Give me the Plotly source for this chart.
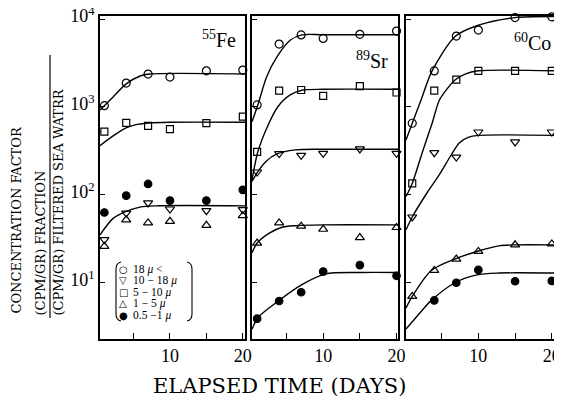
import plotly.graph_objects as go

# ---------------- data ----------------
days = [1, 4, 7, 10, 15, 20]
days_co_fine = [4, 7, 10, 15, 20]

size_classes = ["18 μ <", "10 − 18 μ", "5 − 10 μ", "1 − 5 μ", "0.5 −1 μ"]

fe_gt18 = [1035, 1870, 2370, 2190, 2580, 2630]
fe_10_18 = [31, 62, 81, 69, 66, 68]
fe_5_10 = [525, 660, 608, 559, 654, 776]
fe_1_5 = [26, 52, 48, 50, 45, 58]
fe_05_1 = [63, 98, 133, 86, 86, 114]

sr_gt18 = [1054, 5200, 6610, 6030, 6710, 7310]
sr_10_18 = [182, 295, 282, 297, 333, 297]
sr_5_10 = [309, 1535, 1560, 1334, 1730, 1460]
sr_1_5 = [28.3, 48, 44, 40.6, 32.7, 42.5]
sr_05_1 = [3.9, 6.2, 7.8, 13.4, 15.9, 12]

co_gt18 = [653, 2570, 6410, 7490, 10400, 10600]
co_10_18 = [56, 302, 269, 519, 400, 519]
co_5_10 = [135, 1535, 2050, 2580, 2580, 2580]
co_1_5 = [7.0, 13.8, 18.6, 22.7, 27, 27.7]
co_05_1 = [6.3, 10, 14, 10.4, 10.5]

# fitted curves
fe_fit_gt18_x = [0.4, 1, 2.2, 4, 5.9, 7.2, 20.3]
fe_fit_gt18_y = [925, 1035, 1300, 1830, 2250, 2370, 2370]
fe_fit_5_10_x = [0.4, 2.2, 3.9, 5.5, 7.1, 10, 20.3]
fe_fit_5_10_y = [363, 468, 575, 633, 658, 670, 670]
fe_fit_1_18_x = [0.4, 2.2, 4, 5.9, 8, 20.3]
fe_fit_1_18_y = [35, 54, 65, 72.6, 75, 75]

sr_fit_gt18_x = [0.3, 1.1, 2.3, 3.7, 5.5, 7.1, 10, 20.2]
sr_fit_gt18_y = [680, 1054, 2210, 3720, 5750, 6610, 6640, 6640]
sr_fit_5_10_x = [0.3, 1.1, 2.5, 3.8, 5.5, 7.1, 10, 20.2]
sr_fit_5_10_y = [148, 309, 624, 1000, 1370, 1550, 1590, 1590]
sr_fit_10_18_x = [0.3, 1.1, 2.2, 3.7, 6.2, 10, 20.2]
sr_fit_10_18_y = [142, 184, 240, 292, 325, 330, 330]
sr_fit_1_5_x = [0.3, 1.0, 2.6, 4.4, 6.2, 10, 20.2]
sr_fit_1_5_y = [21.9, 28.3, 36.5, 42.8, 44.6, 45.6, 45.6]
sr_fit_05_1_x = [0.3, 1.1, 3.9, 7.1, 10.3, 15, 20.2]
sr_fit_05_1_y = [2.95, 4.0, 6.2, 9.5, 12.6, 13.1, 13.1]

co_fit_gt18_x = [0.15, 1, 2.2, 3.7, 6.9, 10, 15, 20.3]
co_fit_gt18_y = [422, 653, 1200, 2570, 6410, 8500, 10400, 10700]
co_fit_5_10_x = [0.15, 1, 2.4, 3.7, 4.7, 5.8, 6.9, 8.2, 10, 20.3]
co_fit_5_10_y = [96, 135, 310, 650, 1200, 1630, 2050, 2370, 2580, 2580]
co_fit_10_18_x = [0.15, 1, 3.0, 4.6, 6.2, 7.4, 8.6, 10, 20.3]
co_fit_10_18_y = [40, 56, 105, 165, 275, 390, 450, 475, 475]
co_fit_1_5_x = [0.15, 1, 3.6, 6.8, 9.8, 12.8, 15, 20.3]
co_fit_1_5_y = [5.16, 7.0, 13.8, 18.6, 22.7, 26.3, 27, 27]
co_fit_05_1_x = [0.15, 1, 2.3, 3.6, 6.8, 9.8, 12.8, 20.3]
co_fit_05_1_y = [2.98, 3.6, 4.8, 6.3, 10, 12.3, 12.9, 12.9]

x_tickvals = [5, 10, 15, 20]
x_ticktext = ["", "10", "", "20"]
y_tickvals = [10, 100, 1000, 10000]
y_ticktext = ["10<sup>1</sup>", "10<sup>2</sup>", "10<sup>3</sup>", "10<sup>4</sup>"]

# ---------------- figure ----------------
W, H = 562, 398
OFF = 8  # the page body adds an 8px margin around the plot
def px(x):
    return (x - OFF) / W
def py(y):
    return 1 - (y - OFF) / H

SERIF = "Liberation Serif"
symbols = ["circle-open", "triangle-down-open", "square-open", "triangle-up-open", "circle"]
sizes = [8, 8, 7, 8, 7.5]

fig = go.Figure()

def add_points(xs, ys, k, ax):
    fig.add_trace(go.Scatter(
        x=xs, y=ys, mode="markers", xaxis="x" + ax, yaxis="y" + ax,
        marker=dict(symbol=symbols[k], size=sizes[k], color="black",
                    line=dict(width=1.2, color="black")),
        showlegend=False, cliponaxis=False, hoverinfo="skip"))

def add_curve(xs, ys, ax):
    fig.add_trace(go.Scatter(
        x=xs, y=ys, mode="lines", xaxis="x" + ax, yaxis="y" + ax,
        line=dict(color="black", width=1.4, shape="spline", smoothing=0.8),
        showlegend=False, hoverinfo="skip"))

# Fe panel
add_curve(fe_fit_gt18_x, fe_fit_gt18_y, "")
add_curve(fe_fit_5_10_x, fe_fit_5_10_y, "")
add_curve(fe_fit_1_18_x, fe_fit_1_18_y, "")
for k, s in enumerate([fe_gt18, fe_10_18, fe_5_10, fe_1_5, fe_05_1]):
    add_points(days, s, k, "")

# Sr panel
for cx, cy in [(sr_fit_gt18_x, sr_fit_gt18_y), (sr_fit_5_10_x, sr_fit_5_10_y),
               (sr_fit_10_18_x, sr_fit_10_18_y), (sr_fit_1_5_x, sr_fit_1_5_y),
               (sr_fit_05_1_x, sr_fit_05_1_y)]:
    add_curve(cx, cy, "2")
for k, s in enumerate([sr_gt18, sr_10_18, sr_5_10, sr_1_5, sr_05_1]):
    add_points(days, s, k, "2")

# Co panel
for cx, cy in [(co_fit_gt18_x, co_fit_gt18_y), (co_fit_5_10_x, co_fit_5_10_y),
               (co_fit_10_18_x, co_fit_10_18_y), (co_fit_1_5_x, co_fit_1_5_y),
               (co_fit_05_1_x, co_fit_05_1_y)]:
    add_curve(cx, cy, "3")
for k, s in enumerate([co_gt18, co_10_18, co_5_10, co_1_5]):
    add_points(days, s, k, "3")
add_points(days_co_fine, co_05_1, 4, "3")

xdoms = [(100, 245), (252, 398), (406, 554)]
xranges = [(0.4, 20.3), (0.3, 20.2), (0.15, 20.3)]
ydom = [py(339), py(16)]
yrange = [0.36, 4.035]

axcommon = dict(showline=True, linecolor="black", linewidth=1.5, mirror=True,
                showgrid=False, zeroline=False, ticks="inside", tickcolor="black",
                automargin=False, ticklabeloverflow="allow")

layout = dict(
    width=W, height=H, margin=dict(l=0, r=0, t=0, b=0, pad=0),
    paper_bgcolor="white", plot_bgcolor="white", showlegend=False,
    font=dict(family=SERIF, color="black"),
)
for i, (dom, rng) in enumerate(zip(xdoms, xranges)):
    suffix = "" if i == 0 else str(i + 1)
    layout["xaxis" + suffix] = dict(
        axcommon, domain=[px(dom[0]), px(dom[1])], range=list(rng),
        tickvals=x_tickvals, ticktext=x_ticktext, ticklen=6, tickwidth=1.2,
        tickfont=dict(family=SERIF, size=18), anchor="y" + suffix)
    layout["yaxis" + suffix] = dict(
        axcommon, domain=ydom, type="log", range=yrange,
        tickvals=y_tickvals, ticktext=y_ticktext if i == 0 else [""] * 4,
        ticklen=5, tickwidth=1.2, showticklabels=(i == 0),
        ticklabelshift=-3,
        tickfont=dict(family=SERIF, size=18), anchor="x" + suffix)
fig.update_layout(**layout)

annotations = []
# panel labels
annotations.append(dict(x=px(219), y=py(39), text="<sup>55</sup>Fe", font=dict(size=20)))
annotations.append(dict(x=px(372), y=py(60), text="<sup>89</sup>Sr", font=dict(size=20)))
annotations.append(dict(x=px(532), y=py(42), text="<sup>60</sup>Co", font=dict(size=20)))

# y-axis title block
ytf = dict(family="DejaVu Serif", size=13)
annotations.append(dict(x=px(16), y=py(316), text="CONCENTRATION FACTOR", textangle=-90,
                        xanchor="center", yanchor="bottom", font=ytf))
annotations.append(dict(x=px(40), y=py(318), text="(CPM/GR) FRACTION", textangle=-90,
                        xanchor="center", yanchor="bottom", font=ytf))
annotations.append(dict(x=px(58), y=py(318), text="(CPM/GR) FILTERED SEA WATRR", textangle=-90,
                        xanchor="center", yanchor="bottom", font=ytf))
# x-axis title
annotations.append(dict(x=px(279), y=py(386), text="ELAPSED TIME (DAYS)",
                        font=dict(family="DejaVu Serif", size=21)))

# legend (text)
leg_sym = ["○", "▽", "□", "△", "●"]
rows = [269.5, 280.5, 292, 303.5, 315]
for s, lab, ry in zip(leg_sym, size_classes, rows):
    annotations.append(dict(x=px(123), y=py(ry), text=s, xanchor="center",
                            font=dict(family="DejaVu Sans", size=10)))
    annotations.append(dict(x=px(131), y=py(ry), text=lab.replace("μ", "<i>μ</i>"),
                            xanchor="left", font=dict(family=SERIF, size=11.5)))

for a in annotations:
    a.setdefault("xref", "paper")
    a.setdefault("yref", "paper")
    a.setdefault("showarrow", False)
    a.setdefault("xanchor", "center")
    a.setdefault("yanchor", "middle")
fig.update_layout(annotations=annotations)

shapes = [
    # fraction bar of the y title
    dict(type="line", xref="paper", yref="paper", x0=px(50), x1=px(50),
         y0=py(55), y1=py(318), line=dict(color="black", width=1.2)),
    # legend brackets
    dict(type="path", xref="paper", yref="paper",
         path=f"M {px(121)},{py(262)} Q {px(116)},{py(263)} {px(116)},{py(269)} "
              f"L {px(116)},{py(314)} Q {px(116)},{py(320)} {px(121)},{py(321)}",
         line=dict(color="black", width=1.1)),
    dict(type="path", xref="paper", yref="paper",
         path=f"M {px(187)},{py(262)} Q {px(192)},{py(263)} {px(192)},{py(269)} "
              f"L {px(192)},{py(314)} Q {px(192)},{py(320)} {px(187)},{py(321)}",
         line=dict(color="black", width=1.1)),
]
fig.update_layout(shapes=shapes)

fig.write_html("out.html")
